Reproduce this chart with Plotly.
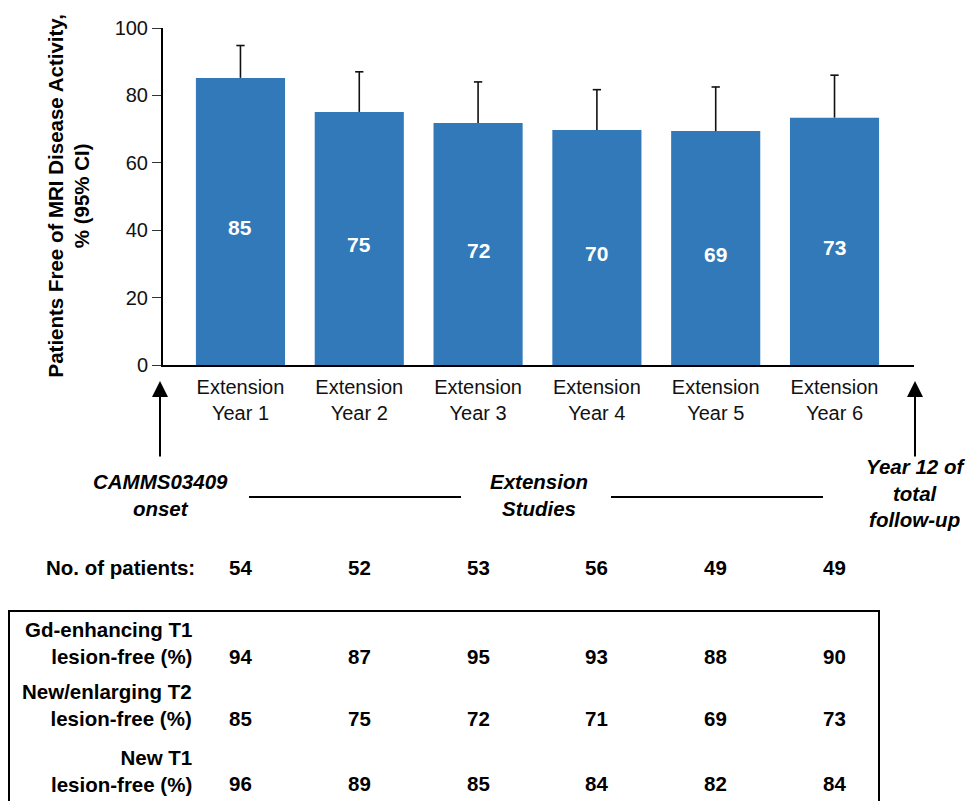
import plotly.graph_objects as go

# ---------------- data ----------------
categories = ["Extension<br>Year 1", "Extension<br>Year 2", "Extension<br>Year 3",
              "Extension<br>Year 4", "Extension<br>Year 5", "Extension<br>Year 6"]
free_pct = [85.2, 75.1, 71.8, 69.7, 69.4, 73.4]
bar_labels = [85, 75, 72, 70, 69, 73]
ci_upper = [94.8, 87.0, 84.0, 81.7, 82.5, 86.0]

n_patients = [54, 52, 53, 56, 49, 49]
row_labels = ["Gd-enhancing T1<br>lesion-free (%)",
              "New/enlarging T2<br>lesion-free (%)",
              "New T1<br>lesion-free (%)"]
gd_t1 = [94, 87, 95, 93, 88, 90]
t2_free = [85, 75, 72, 71, 69, 73]
new_t1 = [96, 89, 85, 84, 82, 84]
table_rows = [gd_t1, t2_free, new_t1]

y_ticks = [0, 20, 40, 60, 80, 100]

# ---------------- styling / layout helpers ----------------
FONT = "Liberation Sans, Arial, sans-serif"
BLUE = "#3179b8"
W, H = 966, 801
X0, X1 = 163, 914      # plot area pixels (left, right)
Y0, Y1 = 28, 365       # plot area pixels (top, bottom)


def px(x):
    return (x - X0) / (X1 - X0)


def py(y):
    return (Y1 - y) / (Y1 - Y0)


xs = list(range(len(categories)))

fig = go.Figure()
fig.add_trace(go.Bar(x=xs, y=free_pct, width=0.75, marker=dict(color=BLUE, line=dict(width=0)),
                     hoverinfo="skip", showlegend=False))

# upper CI whiskers
ex, ey = [], []
cap = 0.035
for i, (v, u) in enumerate(zip(free_pct, ci_upper)):
    ex += [i, i, None, i - cap, i + cap, None]
    ey += [v, u, None, u, u, None]
fig.add_trace(go.Scatter(x=ex, y=ey, mode="lines", line=dict(color="#111111", width=1.6),
                         hoverinfo="skip", showlegend=False))

ann = []
# value labels inside bars
for i, (v, lab) in enumerate(zip(free_pct, bar_labels)):
    ann.append(dict(x=i, y=v / 2, xref="x", yref="y", text=f"<b>{lab}</b>", showarrow=False,
                    xanchor="center", yanchor="middle", yshift=-6,
                    font=dict(family=FONT, size=21, color="white")))

# y-axis title
ann.append(dict(x=px(68), y=0.5, xref="paper", yref="paper", textangle=-90, showarrow=False,
                text="<b>Patients Free of MRI Disease Activity,<br>% (95% CI)</b>",
                font=dict(family=FONT, size=20.5, color="black"), xanchor="center", yanchor="middle"))

# arrows
for ax_px in (160, 915):
    ann.append(dict(x=px(ax_px), y=py(381), xref="paper", yref="paper", text="", showarrow=True,
                    ax=0, ay=77, arrowhead=2, arrowsize=1.6, arrowwidth=2, arrowcolor="black"))


def label(x, y, text, font, xref="paper", xanchor="center", align="center"):
    return dict(x=x, y=y, xref=xref, yref="paper", showarrow=False, text=text, font=font,
                xanchor=xanchor, yanchor="middle", align=align)


bi = dict(family=FONT, size=20.5, color="black")
ann.append(label(px(160), py(495), "<b><i>CAMMS03409<br>onset</i></b>", bi))
ann.append(label(px(539), py(495), "<b><i>Extension<br>Studies</i></b>", bi))
ann.append(label(px(915), py(493), "<b><i>Year 12 of<br>total<br>follow-up</i></b>", bi))

# number of patients row
bold = dict(family=FONT, size=20.5, color="black")
ann.append(label(px(197), py(567), "<b>No. of patients:</b>", bold, xanchor="right", align="right"))
for i, n in enumerate(n_patients):
    ann.append(label(i, py(567), f"<b>{n}</b>", bold, xref="x"))

# boxed table rows
row_centres = [643, 705, 771]
for lab, vals, yc in zip(row_labels, table_rows, row_centres):
    ann.append(label(px(194), py(yc), f"<b>{lab}</b>", bold, xanchor="right", align="right"))
    for i, v in enumerate(vals):
        ann.append(label(i, py(yc + 13), f"<b>{v}</b>", bold, xref="x"))

shapes = [
    dict(type="line", xref="paper", yref="paper", x0=px(249), x1=px(461), y0=py(497), y1=py(497),
         line=dict(color="black", width=2)),
    dict(type="line", xref="paper", yref="paper", x0=px(611), x1=px(823), y0=py(497), y1=py(497),
         line=dict(color="black", width=2)),
    dict(type="path", xref="paper", yref="paper",
         path=f"M {px(9)},{py(830)} L {px(9)},{py(611)} L {px(879)},{py(611)} L {px(879)},{py(830)}",
         line=dict(color="black", width=2)),
]

fig.update_layout(
    width=W, height=H,
    margin=dict(l=X0, r=W - X1, t=Y0, b=H - Y1, pad=0),
    paper_bgcolor="white", plot_bgcolor="white",
    font=dict(family=FONT, color="black"),
    annotations=ann, shapes=shapes,
    xaxis=dict(range=[-0.652, 5.669], tickvals=xs, ticktext=categories, showgrid=False,
               zeroline=False, showline=True, linecolor="black", linewidth=2, ticks="",
               ticklabelstandoff=3,
               tickfont=dict(family=FONT, size=20, color="#111111"), fixedrange=True),
    yaxis=dict(range=[0, 100], tickvals=y_ticks, showgrid=False, zeroline=False, showline=True,
               linecolor="black", linewidth=2, ticks="outside", ticklen=9, tickwidth=1.3,
               tickcolor="#333333", tickfont=dict(family=FONT, size=20, color="#111111"),
               fixedrange=True),
)

fig.write_html("out.html")
